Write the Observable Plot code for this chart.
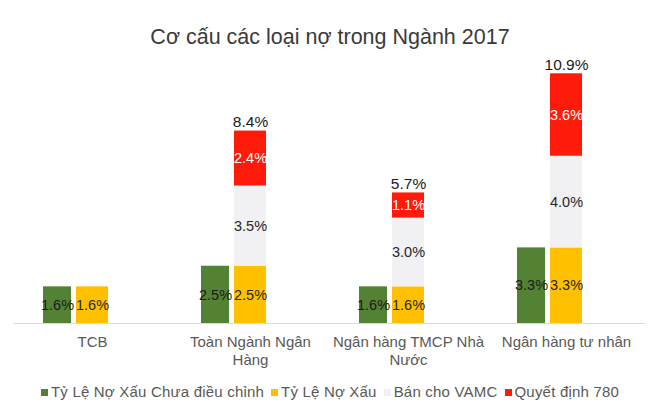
<!DOCTYPE html>
<html>
<head>
<meta charset="utf-8">
<script src="https://cdn.jsdelivr.net/npm/d3@7"></script>
<script src="https://cdn.jsdelivr.net/npm/@observablehq/plot@0.6"></script>
<style>
  body { margin: 0; background: #ffffff; width: 660px; font-family: "Liberation Sans", Arial, sans-serif; }
  #title { height: 50px; box-sizing: border-box; padding-top: 24px; text-align: center; font-size: 21.5px; line-height: 26px; color: #3a3a3a; }
  #chart { height: 322px; }
  #legend { margin-top: 11px; display: flex; justify-content: center; gap: 7px; font-size: 15px; letter-spacing: 0.2px; color: #595959; line-height: 18px; }
  .item { display: flex; align-items: center; gap: 3px; }
  .sw { width: 7px; height: 7px; display: inline-block; }
</style>
</head>
<body>
<div id="title">Cơ cấu các loại nợ trong Ngành 2017</div>
<div id="chart"></div>
<div id="legend"></div>
<script>
const categories = ["TCB", "Toàn Ngành Ngân Hàng", "Ngân hàng TMCP Nhà Nước", "Ngân hàng tư nhân"];
const tickLabels = ["TCB", "Toàn Ngành Ngân\nHàng", "Ngân hàng TMCP Nhà\nNước", "Ngân hàng tư nhân"];
const seriesNames = ["Tỷ Lệ Nợ Xấu Chưa điều chỉnh", "Tỷ Lệ Nợ Xấu", "Bán cho VAMC", "Quyết định 780"];
const seriesColors = ["#548235", "#ffc000", "#f1f0f3", "#ff1a0a"];
const noXauChuaDieuChinh = [1.6, 2.5, 1.6, 3.3];
const noXau = [1.6, 2.5, 1.6, 3.3];
const banChoVAMC = [0, 3.5, 3.0, 4.0];
const quyetDinh780 = [0, 2.4, 1.1, 3.6];

const stackedSeries = [noXau, banChoVAMC, quyetDinh780];
const stacked = [];
stackedSeries.forEach((arr, si) => {
  categories.forEach((c, i) => stacked.push({cat: c, series: seriesNames[si + 1], value: arr[i]}));
});
const greenData = categories.map((c, i) => ({cat: c, series: seriesNames[0], value: noXauChuaDieuChinh[i]}));
const totals = categories.map((c, i) => ({cat: c, total: noXau[i] + banChoVAMC[i] + quyetDinh780[i], extra: banChoVAMC[i] + quyetDinh780[i]}))
  .filter(d => d.extra > 0);

const fmt = v => v.toFixed(1) + "%";
const labelMap = new Map(categories.map((c, i) => [c, tickLabels[i]]));

const chart = Plot.plot({
  width: 660,
  height: 322,
  marginLeft: 13,
  marginRight: 15,
  marginTop: 21,
  marginBottom: 49,
  style: {fontFamily: "Liberation Sans, Arial, sans-serif", background: "transparent", overflow: "visible"},
  x: {domain: categories, paddingInner: 0.797, paddingOuter: 0.3985, align: 0.5, axis: null},
  y: {domain: [0, 11], axis: null},
  color: {domain: seriesNames, range: seriesColors},
  marks: [
    Plot.barY(greenData, {x: "cat", y: "value", fill: "series", dx: -35, insetLeft: 2, insetRight: 2}),
    Plot.barY(stacked, Plot.stackY({x: "cat", y: "value", fill: "series", filter: d => d.value > 0})),
    Plot.ruleY([0], {stroke: "#d9d9d9", strokeWidth: 1}),
    Plot.text(greenData, Plot.stackY({x: "cat", y: "value", text: d => fmt(d.value), dx: -35, fill: "#1a1a1a", fontSize: 14.5})),
    Plot.text(stacked, {
      ...Plot.stackY({x: "cat", y: "value", text: d => fmt(d.value), fill: "#262626", fontSize: 14.5}),
      filter: d => d.value > 0 && d.series !== seriesNames[3]
    }),
    Plot.text(stacked, {
      ...Plot.stackY({x: "cat", y: "value", text: d => fmt(d.value), fill: "#ffffff", fontSize: 14.5}),
      filter: d => d.value > 0 && d.series === seriesNames[3]
    }),
    Plot.text(totals, {x: "cat", y: "total", text: d => fmt(d.total), dy: -9, fill: "#1a1a1a", fontSize: 15.5}),
    Plot.axisX({tickSize: 0, tickPadding: 11, tickFormat: c => labelMap.get(c), fontSize: 15, fill: "#595959", lineHeight: 1.2, label: null, style: {letterSpacing: "0.4px"}})
  ]
});
document.getElementById("chart").appendChild(chart);

const legend = document.getElementById("legend");
seriesNames.forEach((name, i) => {
  const item = document.createElement("span");
  item.className = "item";
  const sw = document.createElement("span");
  sw.className = "sw";
  sw.style.background = seriesColors[i];
  item.appendChild(sw);
  item.appendChild(document.createTextNode(name));
  legend.appendChild(item);
});
</script>
</body>
</html>
